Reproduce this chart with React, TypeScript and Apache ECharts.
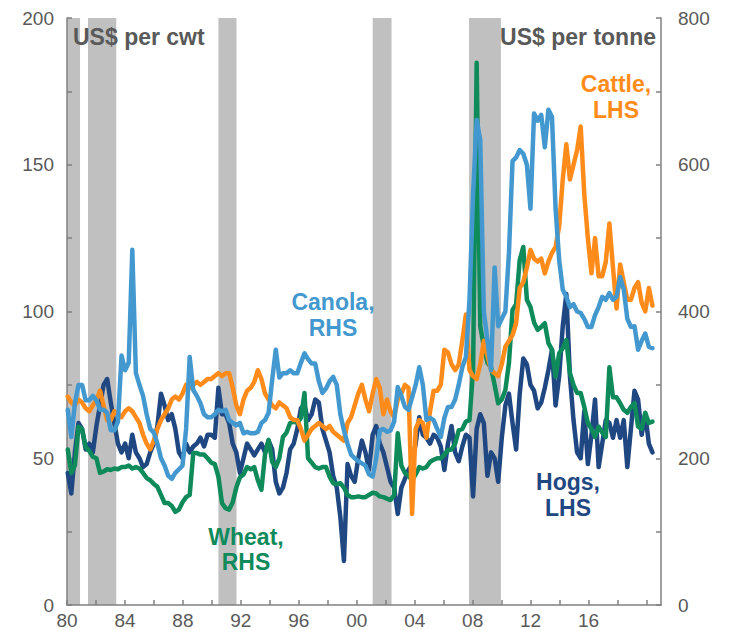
import React, { useEffect, useRef } from "react";
import * as echarts from "echarts";

// Quarterly observations, first one at the start of 1980
const FIRST_DATE = 1980.05;
const DATE_STEP = 0.2476;

// Cattle, US$ per cwt (LHS)
const cattle = [
  71, 69, 68, 70, 69, 67, 66, 68, 70, 73, 68, 63, 63, 66, 65, 64, 66, 67, 66, 64,
  62, 58, 55, 53, 56, 60, 63, 65, 67, 70, 71, 70, 72, 75, 74, 75, 76, 75, 76, 77,
  77, 78, 79, 78, 79, 79, 74, 68, 65, 70, 73, 74, 76, 80, 77, 72, 70, 68, 67, 69,
  68, 67, 64, 63, 63, 60, 56, 58, 60, 61, 62, 61, 60, 61, 59, 58, 57, 56, 62, 64,
  68, 72, 75, 70, 66, 72, 77, 74, 65, 70, 66, 64, 70, 72, 75, 74, 31, 60, 63, 62,
  57, 66, 73, 73, 75, 87, 86, 82, 80, 82, 90, 99, 80, 78, 77, 82, 90, 85, 80, 79,
  78, 82, 88, 90, 92, 96, 108, 110, 115, 121, 118, 117, 118, 113, 117, 120, 122, 129, 145, 157,
  145, 150, 155, 163, 140, 125, 113, 125, 112, 112, 117, 130, 115, 101, 116, 110, 104, 104, 108, 110,
  103, 100, 108, 102,
];

// Hogs, US$ per cwt (LHS)
const hogs = [
  45, 38, 52, 62, 60, 53, 55, 52, 61, 68, 75, 77, 69, 62, 55, 52, 55, 50, 58, 52,
  50, 47, 48, 52, 55, 61, 72, 68, 63, 65, 60, 52, 50, 55, 52, 54, 55, 57, 54, 58,
  58, 57, 74, 65, 65, 62, 55, 52, 45, 50, 55, 53, 51, 53, 55, 52, 56, 53, 42, 38,
  40, 45, 53, 55, 60, 67, 68, 63, 65, 70, 69, 60, 56, 52, 44, 40, 30, 15, 48, 44,
  42, 50, 56, 52, 46, 58, 61, 55, 52, 47, 42, 40, 31, 40, 43, 46, 48, 55, 64, 58,
  57, 55, 58, 57, 54, 46, 55, 61, 52, 49, 54, 58, 57, 37, 60, 65, 62, 44, 52, 50,
  42, 57, 68, 72, 62, 53, 72, 84, 82, 75, 73, 67, 69, 74, 80, 87, 68, 78, 95, 106,
  78, 63, 52, 50, 66, 48, 58, 70, 47, 55, 63, 62, 57, 63, 57, 63, 47, 60, 73, 70,
  58, 65, 55, 52,
];

// Wheat, US$ per tonne (RHS)
const wheat = [
  212, 180, 190, 243, 240, 215, 210, 202, 200, 180, 182, 185, 184, 186, 185, 188, 188, 190, 186, 188,
  186, 180, 173, 170, 165, 161, 150, 139, 139, 135, 127, 130, 140, 147, 150, 207, 207, 205, 205, 200,
  194, 192, 175, 139, 132, 130, 140, 160, 174, 178, 188, 185, 188, 170, 157, 205, 225, 195, 188, 200,
  229, 235, 248, 250, 248, 255, 289, 200, 194, 188, 186, 188, 188, 175, 166, 165, 166, 160, 150, 147,
  147, 148, 147, 147, 150, 153, 152, 148, 147, 145, 143, 150, 234, 190, 180, 176, 170, 178, 188, 186,
  188, 195, 198, 200, 200, 205, 211, 212, 220, 238, 240, 250, 252, 320, 739, 380, 352, 330, 324, 300,
  275, 280, 293, 330, 402, 410, 470, 488, 416, 406, 385, 375, 379, 384, 357, 348, 311, 343, 350, 361,
  316, 300, 289, 289, 270, 248, 240, 229, 243, 235, 229, 324, 283, 283, 275, 266, 262, 270, 275, 243,
  240, 262, 248, 250,
];

// Canola, US$ per tonne (RHS)
const canola = [
  266, 229, 275, 300, 300, 279, 279, 285, 279, 266, 266, 262, 238, 238, 250, 340, 320, 330, 484, 316,
  300, 285, 260, 240, 235, 220, 200, 190, 176, 172, 180, 185, 190, 240, 338, 293, 285, 275, 260, 256,
  256, 260, 266, 264, 266, 252, 248, 245, 248, 234, 236, 234, 234, 236, 248, 252, 262, 307, 348, 310,
  316, 316, 320, 316, 316, 330, 343, 335, 329, 329, 305, 289, 295, 305, 311, 300, 260, 238, 220, 205,
  200, 196, 193, 190, 178, 175, 200, 238, 240, 236, 238, 250, 297, 285, 270, 266, 283, 300, 324, 300,
  252, 255, 252, 240, 229, 255, 270, 270, 280, 300, 324, 338, 416, 560, 661, 634, 400, 361, 320, 460,
  380, 390, 400, 480, 605, 610, 620, 615, 600, 540, 670, 660, 668, 624, 675, 665, 540, 470, 430, 420,
  406, 410, 400, 398, 390, 379, 379, 395, 406, 420, 416, 425, 416, 420, 447, 430, 390, 379, 380, 348,
  360, 370, 352, 350,
];

// Recession periods (start, end) in years
const recessions: [number, number][] = [
  [1980.0, 1980.9],
  [1981.45, 1983.4],
  [1990.45, 1991.7],
  [2001.1, 2002.4],
  [2007.75, 2009.95],
];

const X_MIN = 1980;
const X_MAX = 2021;
const LAST_LABEL_YEAR = 2016;

const FONT = '"Liberation Sans", Arial, Helvetica, sans-serif';
const GREY = "#595959";
const AXIS = "#808080";
const C_CATTLE = "#FF8C1A";
const C_HOGS = "#1F4782";
const C_WHEAT = "#0E8A5B";
const C_CANOLA = "#4399CF";
const C_RECESSION = "#C0C0C0";

function toPoints(values: number[]) {
  return values.map((v, i) => [FIRST_DATE + i * DATE_STEP, v]);
}

function label(text: string, x: number, y: number, color: string, align = "center") {
  return {
    type: "text",
    x,
    y,
    z: 100,
    silent: true,
    style: {
      text,
      fill: color,
      font: `bold 23px ${FONT}`,
      align,
      verticalAlign: "middle",
      textAlign: align,
      textVerticalAlign: "middle",
    },
  };
}

export default function App() {
  const ref = useRef<HTMLDivElement>(null);

  useEffect(() => {
    document.body.style.margin = "0";
    const chart = echarts.init(ref.current as HTMLDivElement, undefined, { renderer: "svg" });

    const line = (name: string, data: number[], yAxisIndex: number, color: string, z: number) => ({
      type: "line",
      name,
      data: toPoints(data),
      yAxisIndex,
      showSymbol: false,
      symbol: "none",
      silent: true,
      z,
      lineStyle: { color, width: 4.5, join: "round", cap: "round" },
      itemStyle: { color },
    });

    const yCommon = {
      type: "value",
      min: 0,
      splitLine: { show: false },
      axisLine: { show: true, lineStyle: { color: AXIS, width: 1.5 } },
      axisTick: { show: true, inside: true, length: 5, lineStyle: { color: AXIS, width: 1.5 } },
    };

    chart.setOption({
      animation: false,
      grid: { left: 67, right: 73, top: 18, bottom: 25 },
      xAxis: {
        type: "value",
        min: X_MIN,
        max: X_MAX,
        interval: 2,
        splitLine: { show: false },
        axisLine: { show: true, lineStyle: { color: AXIS, width: 1.5 } },
        axisTick: { show: true, inside: true, length: 5, lineStyle: { color: AXIS, width: 1.5 } },
        axisLabel: {
          color: GREY,
          fontSize: 19,
          fontFamily: FONT,
          margin: 6,
          showMaxLabel: false,
          formatter: (v: number) =>
            (v - X_MIN) % 4 === 0 && v <= LAST_LABEL_YEAR ? String(v % 100).padStart(2, "0") : "",
        },
      },
      yAxis: [
        {
          ...yCommon,
          position: "left",
          max: 200,
          interval: 25,
          axisLabel: {
            color: GREY,
            fontSize: 19,
            fontFamily: FONT,
            margin: 13,
            formatter: (v: number) => (v % 50 === 0 ? String(v) : ""),
          },
        },
        {
          ...yCommon,
          position: "right",
          max: 800,
          interval: 100,
          axisLabel: {
            color: GREY,
            fontSize: 19,
            fontFamily: FONT,
            margin: 17,
            formatter: (v: number) => (v % 200 === 0 ? String(v) : ""),
          },
        },
      ],
      series: [
        {
          type: "custom",
          name: "Recessions",
          silent: true,
          z: 0,
          data: recessions,
          encode: { x: [0, 1] },
          renderItem: (_params: any, api: any) => {
            const p0 = api.coord([api.value(0), 200]);
            const p1 = api.coord([api.value(1), 0]);
            return {
              type: "rect",
              shape: { x: p0[0], y: p0[1], width: p1[0] - p0[0], height: p1[1] - p0[1] },
              style: { fill: C_RECESSION },
            };
          },
        },
        line("Hogs", hogs, 0, C_HOGS, 2),
        line("Wheat", wheat, 1, C_WHEAT, 3),
        line("Cattle", cattle, 0, C_CATTLE, 4),
        line("Canola", canola, 1, C_CANOLA, 5),
      ],
      graphic: [
        label("US$ per cwt", 73, 37, GREY, "left"),
        label("US$ per tonne", 656, 37, GREY, "right"),
        label("Cattle,", 616, 84, C_CATTLE),
        label("LHS", 616, 110, C_CATTLE),
        label("Canola,", 333, 302, C_CANOLA),
        label("RHS", 333, 328, C_CANOLA),
        label("Wheat,", 246, 537, C_WHEAT),
        label("RHS", 246, 562, C_WHEAT),
        label("Hogs,", 568, 482, C_HOGS),
        label("LHS", 568, 508, C_HOGS),
      ],
    });

    return () => chart.dispose();
  }, []);

  return (
    <div
      ref={ref}
      style={{ position: "absolute", left: 0, top: 0, width: 734, height: 630 }}
    />
  );
}
